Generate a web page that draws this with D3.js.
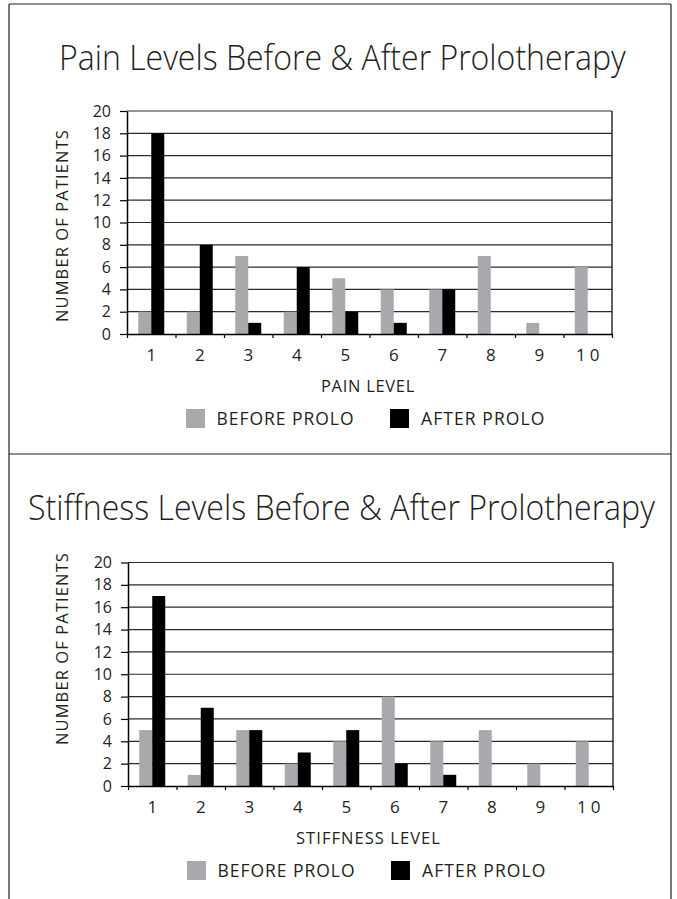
<!DOCTYPE html>
<html>
<head>
<meta charset="utf-8">
<script src="https://cdn.jsdelivr.net/npm/d3@7"></script>
<style>
  html, body { margin: 0; padding: 0; background: #fff; }
  svg { display: block; }
  text { font-family: "Open Sans", "Noto Sans", sans-serif; fill: #231f20; }
</style>
</head>
<body>
<svg id="chart" width="677" height="899"></svg>
<script>
// ---------- DATA ----------
const categories = ["1", "2", "3", "4", "5", "6", "7", "8", "9", "10"];
const seriesNames = ["BEFORE PROLO", "AFTER PROLO"];
const painBefore = [2, 2, 7, 2, 5, 4, 4, 7, 1, 6];
const painAfter = [18, 8, 1, 6, 2, 1, 4, 0, 0, 0];
const stiffBefore = [5, 1, 5, 2, 4, 8, 4, 5, 2, 4];
const stiffAfter = [17, 7, 5, 3, 5, 2, 1, 0, 0, 0];
const yTicks = [0, 2, 4, 6, 8, 10, 12, 14, 16, 18, 20];
const chartTitles = ["Pain Levels Before & After Prolotherapy", "Stiffness Levels Before & After Prolotherapy"];
const xTitles = ["PAIN LEVEL", "STIFFNESS LEVEL"];
const yTitle = "NUMBER OF PATIENTS";

// ---------- LAYOUT ----------
const colors = { before: "#a7a9ac", after: "#000000" };
const svg = d3.select("#chart");

// Fit a text (anchored at its start) to a target width: widen with letter-spacing,
// or narrow by a horizontal scale so its real box matches the reference.
function fitText(sel, x, y, target, rotate) {
  const node = sel.node();
  const natural = node.getComputedTextLength();
  const n = node.textContent.length;
  if (natural < target) {
    sel.attr("letter-spacing", (target - natural) / n);
    sel.attr("transform", rotate ? `translate(${x},${y}) rotate(-90)` : `translate(${x},${y})`);
  } else {
    const s = target / natural;
    sel.attr("transform", rotate ? `translate(${x},${y}) rotate(-90) scale(${s},1)` : `translate(${x},${y}) scale(${s},1)`);
  }
}

// outer frame
const frame = svg.append("g").attr("stroke", "#231f20").attr("stroke-width", 1.2).attr("fill", "none");
frame.append("line").attr("x1", 9).attr("x2", 9).attr("y1", 4).attr("y2", 899);
frame.append("line").attr("x1", 671).attr("x2", 671).attr("y1", 4).attr("y2", 899);
frame.append("line").attr("x1", 9).attr("x2", 671).attr("y1", 4).attr("y2", 4);
frame.append("line").attr("x1", 9).attr("x2", 671).attr("y1", 454).attr("y2", 454);

const charts = [
  { title: chartTitles[0], xTitle: xTitles[0], before: painBefore, after: painAfter,
    x0: 127, x1: 612, yTop: 111, yBot: 334,
    titleX0: 59, titleX1: 626, titleBase: 69.5,
    xTitleX0: 321, xTitleW: 94, yLabelTop: 129,
    legend: { sq1: 186, t1: 216.5, w1: 138, sq2: 390, t2: 421, w2: 124.5 } },
  { title: chartTitles[1], xTitle: xTitles[1], before: stiffBefore, after: stiffAfter,
    x0: 128, x1: 613, yTop: 562.5, yBot: 786,
    titleX0: 28, titleX1: 655, titleBase: 519.5,
    xTitleX0: 296, xTitleW: 145, yLabelTop: 552,
    legend: { sq1: 187, t1: 217.5, w1: 138, sq2: 391, t2: 422, w2: 124.5 } }
];

charts.forEach(c => {
  const g = svg.append("g");
  const x = d3.scaleBand().domain(categories).range([c.x0, c.x1]).paddingInner(0).paddingOuter(0);
  const xs = d3.scaleBand().domain(["before", "after"]).range([0, x.bandwidth()]).paddingInner(0).paddingOuter(0.866);
  const y = d3.scaleLinear().domain([0, 20]).range([c.yBot, c.yTop]);

  // title
  const t = g.append("text")
    .attr("font-size", 34).attr("font-weight", 300)
    .text(c.title);
  fitText(t, c.titleX0, c.titleBase, c.titleX1 - c.titleX0, false);

  // gridlines
  g.append("g").selectAll("line").data(yTicks.filter(v => v > 0)).join("line")
    .attr("x1", c.x0).attr("x2", c.x1)
    .attr("y1", d => y(d)).attr("y2", d => y(d))
    .attr("stroke", "#2b2b2b").attr("stroke-width", 1.2);

  // right border
  g.append("line").attr("x1", c.x1).attr("x2", c.x1).attr("y1", c.yTop).attr("y2", c.yBot)
    .attr("stroke", "#231f20").attr("stroke-width", 1.4);

  // bars
  const rows = categories.map((cat, i) => ({ cat, before: c.before[i], after: c.after[i] }));
  const grp = g.append("g").selectAll("g").data(rows).join("g")
    .attr("transform", d => `translate(${x(d.cat)},0)`);
  grp.selectAll("rect").data(d => [{ k: "before", v: d.before }, { k: "after", v: d.after }]).join("rect")
    .attr("x", d => xs(d.k))
    .attr("width", xs.bandwidth())
    .attr("y", d => y(d.v))
    .attr("height", d => y(0) - y(d.v))
    .attr("fill", d => colors[d.k]);

  // y axis
  const yAxis = g.append("g").attr("transform", `translate(${c.x0},0)`)
    .call(d3.axisLeft(y).tickValues(yTicks).tickSize(7).tickSizeOuter(0).tickPadding(9));
  yAxis.select(".domain").attr("stroke", "#000").attr("stroke-width", 1.5);
  yAxis.selectAll(".tick line").attr("stroke", "#000").attr("stroke-width", 1.2);
  yAxis.selectAll("text").attr("font-size", 16).attr("font-family", "\"Open Sans\", sans-serif").attr("fill", "#231f20");

  // x axis: boundary ticks
  const xb = d3.scaleLinear().domain([0, categories.length]).range([c.x0, c.x1]);
  const xAxisTicks = g.append("g").attr("transform", `translate(0,${c.yBot})`)
    .call(d3.axisBottom(xb).tickValues(d3.range(0, categories.length + 1)).tickSize(4).tickSizeOuter(0).tickFormat(""));
  xAxisTicks.select(".domain").attr("stroke", "#000").attr("stroke-width", 1.5);
  xAxisTicks.selectAll(".tick line").attr("stroke", "#000").attr("stroke-width", 1.2);

  // x axis: labels
  const xAxisLabels = g.append("g").attr("transform", `translate(0,${c.yBot})`)
    .call(d3.axisBottom(x).tickSize(0).tickSizeOuter(0));
  xAxisLabels.select(".domain").remove();
  xAxisLabels.selectAll("text")
    .attr("y", 27).attr("dy", 0)
    .attr("font-size", 17).attr("font-family", "\"Open Sans\", sans-serif").attr("fill", "#231f20")
    .attr("letter-spacing", d => d.length > 1 ? 4 : 0)
    .attr("dx", d => d.length > 1 ? 2 : 0);

  // x title
  const xt = g.append("text").attr("font-size", 16.5).text(c.xTitle);
  fitText(xt, c.xTitleX0, c.yBot + 58, c.xTitleW, false);

  // y title (rotated, reads bottom to top)
  const yt = g.append("text").attr("font-size", 16.5).text(yTitle);
  fitText(yt, 68, c.yLabelTop + 193, 193, true);

  // legend
  const ly = c.yBot + 75;
  const L = c.legend;
  g.append("rect").attr("x", L.sq1).attr("y", ly).attr("width", 19).attr("height", 19).attr("fill", colors.before);
  const l1 = g.append("text").attr("font-size", 17.5).text(seriesNames[0]);
  fitText(l1, L.t1, ly + 16.3, L.w1, false);
  g.append("rect").attr("x", L.sq2).attr("y", ly).attr("width", 19).attr("height", 19).attr("fill", colors.after);
  const l2 = g.append("text").attr("font-size", 17.5).text(seriesNames[1]);
  fitText(l2, L.t2, ly + 16.3, L.w2, false);
});
</script>
</body>
</html>
